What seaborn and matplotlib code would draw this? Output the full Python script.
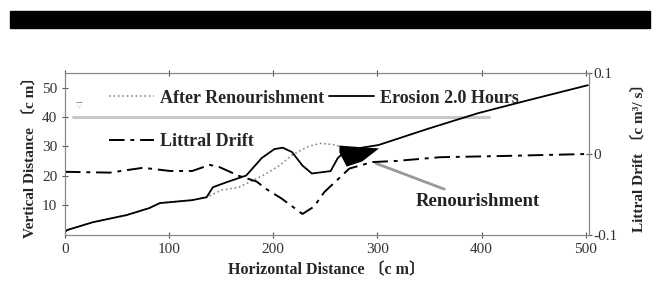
import numpy as np
import pandas as pd
import matplotlib
matplotlib.use("Agg")
import matplotlib.pyplot as plt
from matplotlib.patches import Rectangle
import seaborn as sns

# profile after 2 hours of erosion (left axis, cm)
erosion_x = [0, 2, 27, 59, 81, 91, 122, 136, 142, 155, 174, 189, 201, 209, 218, 228, 237, 255, 262, 270, 285, 301, 349, 397, 445, 502]
erosion_y = [0.7, 1.4, 4.1, 6.5, 8.9, 10.6, 11.6, 12.6, 16.0, 17.7, 20.0, 26.0, 29.0, 29.5, 28.0, 23.4, 20.7, 21.5, 26.0, 28.5, 29.5, 30.4, 36.0, 41.3, 45.7, 50.8]

# profile after renourishment (left axis, cm)
renour_x = [0, 2, 27, 59, 81, 91, 122, 136, 150, 167, 190, 206, 218, 234, 246, 258, 263]
renour_y = [0.7, 1.4, 4.1, 6.5, 8.9, 10.6, 11.6, 12.6, 15.0, 16.0, 20.0, 23.4, 27.0, 30.0, 31.0, 30.5, 30.0]

# littoral drift (right axis, cm^3/s)
drift_x = [0, 43, 75, 101, 122, 139, 148, 167, 184, 193, 208, 228, 239, 249, 273, 295, 318, 360, 420, 502]
drift_y = [-0.022, -0.023, -0.017, -0.021, -0.021, -0.0135, -0.016, -0.027, -0.034, -0.043, -0.055, -0.074, -0.065, -0.047, -0.018, -0.010, -0.0086, -0.004, -0.0025, 0.0]

# renourished sand block (filled black)
fill_x = [263, 270, 285, 301]
fill_top = [30.4, 30.2, 29.8, 29.4]
fill_bottom = [28.0, 23.2, 25.0, 29.4]

water_level = 40
water_x = [8, 407]

x_ticks = [0, 100, 200, 300, 400, 500]
y_ticks = [10, 20, 30, 40, 50]
drift_ticks = [-0.1, 0, 0.1]
drift_tick_labels = ["-0.1", "0", "0.1"]

sns.set_style("ticks")
plt.rcParams["font.family"] = ["Liberation Serif", "Noto Sans CJK JP", "DejaVu Sans"]
plt.rcParams["axes.edgecolor"] = "#888888"

fig = plt.figure(figsize=(6.59, 2.87), dpi=100)
ax = fig.add_axes([0.0986, 0.181, 0.795, 0.565])

fig.patches.append(Rectangle((10 / 659, 1 - 28 / 287), 640 / 659, 17 / 287,
                             transform=fig.transFigure, color="black"))

ax.plot(water_x, [water_level, water_level], color="#c8c8c8", lw=2.2)
ax.text(14, 43.5, "▽", fontsize=5, color="#777777", ha="center", va="center")

ax.fill_between(fill_x, fill_bottom, fill_top, color="black", lw=0)

sns.lineplot(x=renour_x, y=renour_y, ax=ax, color="#8a8a8a", lw=1.2,
             linestyle=":", label="After Renourishment")
sns.lineplot(x=erosion_x, y=erosion_y, ax=ax, color="black", lw=1.3,
             label="Erosion 2.0 Hours")

ax2 = ax.twinx()
sns.lineplot(x=drift_x, y=drift_y, ax=ax2, color="black", lw=1.4,
             linestyle=(0, (8, 3, 2, 3)), label="Littral Drift")

ax.set_xlim(0, 503)
ax.set_ylim(-0.3, 55)
ax2.set_ylim(-0.1, 0.1)
ax.set_xticks(x_ticks)
ax.set_yticks(y_ticks)
ax2.set_yticks(drift_ticks)
ax2.set_yticklabels(drift_tick_labels)

ax.tick_params(axis="both", direction="inout", length=4, labelsize=11,
               colors="#555555", labelcolor="#333333", top=True)
ax2.tick_params(axis="y", direction="inout", length=4, labelsize=11,
                colors="#555555", labelcolor="#333333", pad=1)
for a in (ax, ax2):
    for s in a.spines.values():
        s.set_visible(True)
        s.set_color("#888888")

ax.set_xlabel("Horizontal Distance 〔c m〕", fontsize=11.5, fontweight="bold", labelpad=5)
ax.set_ylabel("Vertical Distance 〔c m〕", fontsize=11, fontweight="bold", labelpad=4)
ax2.set_ylabel("Littral Drift 〔c m³/ s〕", fontsize=11, fontweight="bold", labelpad=10)

h1, l1 = ax.get_legend_handles_labels()
h2, l2 = ax2.get_legend_handles_labels()
ax2.get_legend().remove()
ax.legend([h1[0], h2[0], h1[1]], [l1[0], l2[0], l1[1]], ncol=2,
          loc="upper left", bbox_to_anchor=(0.067, 0.952), frameon=False,
          prop={"weight": "bold", "size": 13}, handlelength=2.5,
          handletextpad=0.3, labelspacing=1.47, columnspacing=0.3, borderpad=0)

ax.annotate("Renourishment", xy=(296, 24.5), xytext=(337, 11),
            fontsize=13.5, fontweight="bold", color="#222222", va="center",
            arrowprops=dict(arrowstyle="-", color="#999999", lw=2))

fig.savefig("out.png", dpi=100)
